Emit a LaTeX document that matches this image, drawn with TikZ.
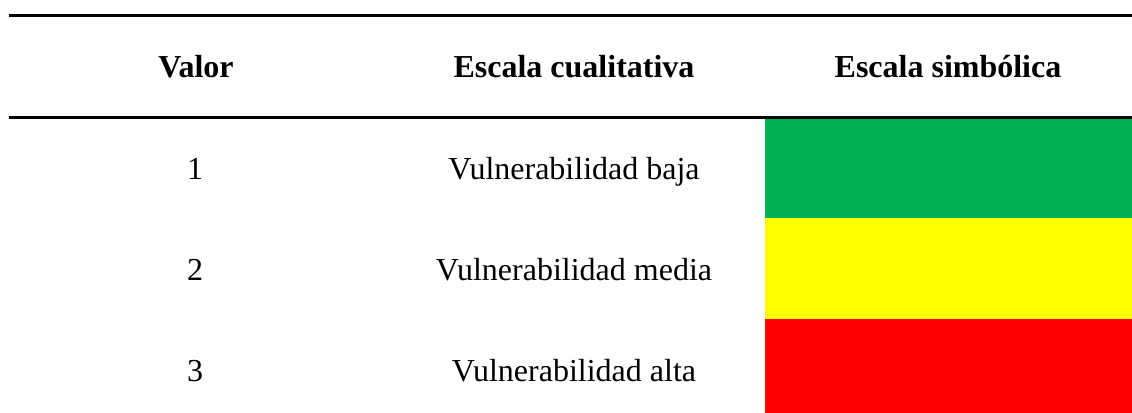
\documentclass[tikz,border=0pt]{standalone}
\usepackage{fontspec}
\setmainfont{Liberation Serif}
\definecolor{cgreen}{HTML}{00B050}
\definecolor{cyellow}{HTML}{FFFF00}
\definecolor{cred}{HTML}{FF0000}
\begin{document}
\begin{tikzpicture}[x=0.5pt,y=-0.5pt,
  head/.style={anchor=base,font=\fontsize{16}{19}\selectfont\bfseries,inner sep=0pt},
  cell/.style={anchor=base,font=\fontsize{16}{19}\selectfont,inner sep=0pt},
  rulel/.style={line width=1.5pt,black}]
\useasboundingbox (0,0) rectangle (1132,413);
% coloured cells
\fill[cgreen] (765,117) rectangle (1132,218);
\fill[cyellow] (765,218) rectangle (1132,319);
\fill[cred] (765,319) rectangle (1132,413);
% rules
\coordinate (t1) at (9,15);
\coordinate (t2) at (1132,15);
\coordinate (m1) at (9,117);
\coordinate (m2) at (1132,117);
\draw[rulel] (t1) -- (t2);
\draw[rulel] (m1) -- (m2);
% header
\node[head] (h1) at (196,77) {Valor};
\node[head] (h2) at (574,77) {Escala cualitativa};
\node[head] (h3) at (948,77) {Escala simbólica};
% rows
\node[cell] (v1) at (195,179) {1};
\node[cell] (q1) at (574,179) {Vulnerabilidad baja};
\node[cell] (v2) at (195,280) {2};
\node[cell] (q2) at (574,280) {Vulnerabilidad media};
\node[cell] (v3) at (195,381) {3};
\node[cell] (q3) at (574,381) {Vulnerabilidad alta};
\end{tikzpicture}
\end{document}
